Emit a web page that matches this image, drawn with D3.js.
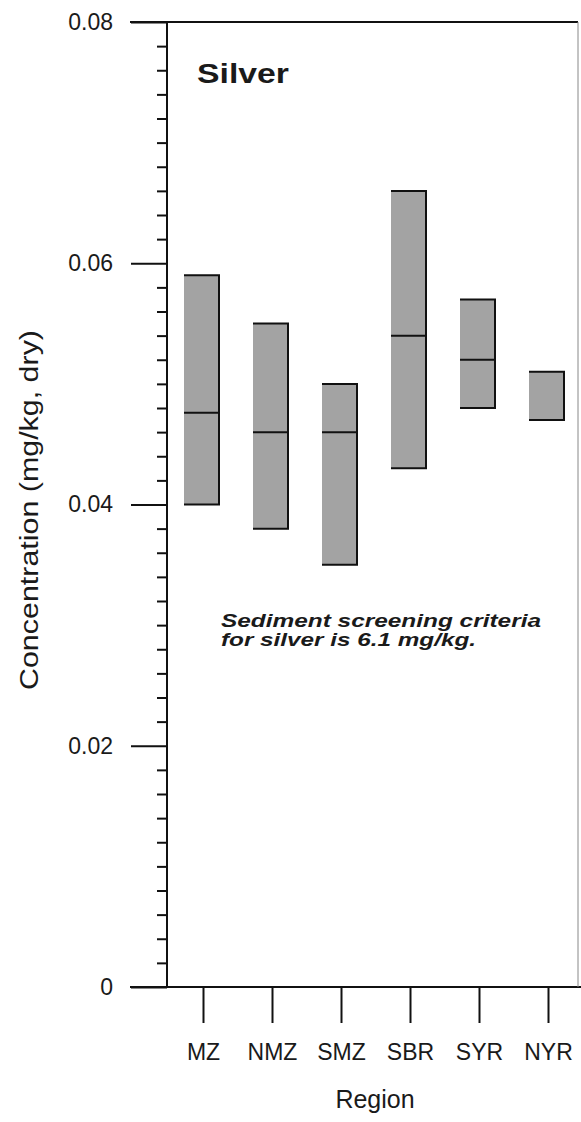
<!DOCTYPE html>
<html>
<head>
<meta charset="utf-8">
<script src="https://cdn.jsdelivr.net/npm/d3@7"></script>
<style>
  html, body { margin: 0; padding: 0; background: #fff; }
  svg { display: block; }
  text { font-family: "Liberation Sans", Arial, sans-serif; fill: #1a1a1a; }
</style>
</head>
<body>
<svg id="chart" width="581" height="1122"></svg>
<script>
// ---- data ----
const regions = ["MZ", "NMZ", "SMZ", "SBR", "SYR", "NYR"];
const lows    = [0.040, 0.038, 0.035, 0.043, 0.048, 0.047];
const highs   = [0.059, 0.055, 0.050, 0.066, 0.057, 0.051];
const medians = [0.0476, 0.046, 0.046, 0.054, 0.052, null];
const yTickValues = [0, 0.02, 0.04, 0.06, 0.08];
const yTickLabels = ["0", "0.02", "0.04", "0.06", "0.08"];
const yMinorStep = 0.002;
const chartTitle = "Silver";
const yTitle = "Concentration (mg/kg, dry)";
const xTitle = "Region";
const noteLines = ["Sediment screening criteria", "for silver is 6.1 mg/kg."];

(function () {
// ---- layout ----
const svg = d3.select("#chart");
const axisX = 167, plotTop = 22, plotBottom = 987, rightEdge = 578;

const y = d3.scaleLinear().domain([0, 0.08]).range([plotBottom, plotTop]);
const x = d3.scalePoint().domain(regions).range([203, 548]);

// minor ticks
const minorVals = d3.range(0, 0.08 + 1e-9, yMinorStep).filter(v => Math.abs(v / 0.02 - Math.round(v / 0.02)) > 1e-6);
svg.append("g")
  .attr("transform", `translate(${axisX},0)`)
  .call(d3.axisLeft(y).tickValues(minorVals).tickSize(10).tickFormat(""))
  .call(g => g.select(".domain").remove())
  .call(g => g.selectAll("line").attr("stroke", "#111").attr("stroke-width", 2));

// major ticks
svg.append("g")
  .attr("transform", `translate(${axisX},0)`)
  .call(d3.axisLeft(y).tickValues(yTickValues).tickSize(36).tickPadding(18)
        .tickFormat((d, i) => yTickLabels[i]))
  .call(g => g.select(".domain").remove())
  .call(g => g.selectAll("line").attr("stroke", "#111").attr("stroke-width", 2))
  .call(g => g.selectAll("text").attr("font-size", 23).attr("fill", "#1a1a1a")
        .style("font-family", '"Liberation Sans", Arial, sans-serif'));

// x axis ticks
svg.append("g")
  .attr("transform", `translate(0,${plotBottom})`)
  .call(d3.axisBottom(x).tickSize(36).tickPadding(21))
  .call(g => g.select(".domain").remove())
  .call(g => g.selectAll("line").attr("stroke", "#111").attr("stroke-width", 2))
  .call(g => g.selectAll("text").attr("font-size", 23).attr("fill", "#1a1a1a")
        .style("font-family", '"Liberation Sans", Arial, sans-serif'));

// frame lines
svg.append("line").attr("x1", axisX).attr("x2", axisX).attr("y1", plotTop).attr("y2", plotBottom)
  .attr("stroke", "#111").attr("stroke-width", 2);
svg.append("line").attr("x1", 130).attr("x2", rightEdge).attr("y1", plotTop).attr("y2", plotTop)
  .attr("stroke", "#111").attr("stroke-width", 2);
svg.append("line").attr("x1", 130).attr("x2", 581).attr("y1", plotBottom).attr("y2", plotBottom)
  .attr("stroke", "#111").attr("stroke-width", 2);
svg.append("line").attr("x1", rightEdge).attr("x2", rightEdge).attr("y1", plotTop).attr("y2", plotBottom)
  .attr("stroke", "#888").attr("stroke-width", 1);

// bars
const bw = 35;
const bars = svg.append("g");
regions.forEach((r, i) => {
  const cx = x(r) - 1.5;
  const x0 = cx - bw / 2, x1 = cx + bw / 2;
  const yt = y(highs[i]), yb = y(lows[i]);
  bars.append("rect").attr("x", x0).attr("y", yt).attr("width", bw).attr("height", yb - yt)
    .attr("fill", "#a3a3a3");
  bars.append("path")
    .attr("d", `M${x0},${yt}H${x1}V${yb}H${x0}`)
    .attr("fill", "none").attr("stroke", "#111").attr("stroke-width", 2);
  if (medians[i] != null) {
    bars.append("line").attr("x1", x0).attr("x2", x1)
      .attr("y1", y(medians[i])).attr("y2", y(medians[i]))
      .attr("stroke", "#111").attr("stroke-width", 2);
  }
});

// title
svg.append("text").attr("x", 197).attr("y", 83)
  .attr("font-size", 27).attr("font-weight", "bold")
  .attr("textLength", 92).attr("lengthAdjust", "spacingAndGlyphs")
  .text(chartTitle);

// y title
svg.append("text")
  .attr("transform", `translate(38,510) rotate(-90)`)
  .attr("text-anchor", "middle")
  .attr("font-size", 25)
  .attr("textLength", 360).attr("lengthAdjust", "spacingAndGlyphs")
  .text(yTitle);

// x title
svg.append("text").attr("x", 375).attr("y", 1108)
  .attr("text-anchor", "middle").attr("font-size", 25)
  .text(xTitle);

// note
const noteLens = [320, 255];
noteLines.forEach((t, i) => {
  svg.append("text").attr("x", 221).attr("y", 627 + i * 19)
    .attr("font-size", 18).attr("font-weight", "bold").attr("font-style", "italic")
    .attr("textLength", noteLens[i]).attr("lengthAdjust", "spacingAndGlyphs")
    .text(t);
});
})();
</script>
</body>
</html>
